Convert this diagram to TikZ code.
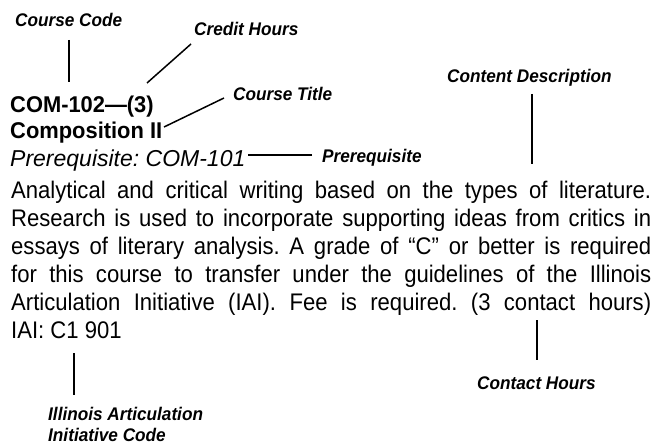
\documentclass[tikz,border=0pt]{standalone}
\usepackage{fontspec}
\setmainfont{Liberation Sans}
\newfontfamily\bodyfont{Liberation Sans}[FakeStretch=0.92]
\newfontfamily\headfont{Liberation Sans}[FakeStretch=0.96]
\newfontfamily\lblfont{Liberation Sans}[FakeStretch=0.94]
\frenchspacing
\begin{document}
\begin{tikzpicture}[x=1pt,y=-1pt,
  lbl/.style={font=\fontsize{18.3}{21}\lblfont\selectfont\bfseries\itshape, inner sep=0pt, anchor=base west},
  bodyline/.style={font=\fontsize{24}{28}\bodyfont\selectfont, inner sep=0pt, anchor=base west},
  head/.style={font=\fontsize{22.8}{26}\headfont\selectfont\bfseries, inner sep=0pt, anchor=base west},
  prq/.style={font=\fontsize{23}{26}\selectfont\itshape, inner sep=0pt, anchor=base west},
  ln/.style={line width=1.5pt}]
\useasboundingbox (0,0) rectangle (659,444);
% labels
\node[lbl] (cc) at (15,27) {Course Code};
\node[lbl] (ch) at (194,36) {Credit Hours};
\node[lbl] (ct) at (233,100) {Course Title};
\node[lbl] (cd) at (447,82) {Content Description};
\node[lbl] (pl) at (322,162) {Prerequisite};
\node[lbl] (chr) at (477,389) {Contact Hours};
\node[lbl, align=left] (ia) at (48,441) {Illinois Articulation\\Initiative Code};
% heading
\node[head] (code) at (10,113) {COM-102—(3)};
\node[head] (title) at (10,139) {Composition II};
\node[prq] (pre) at (10,166) {Prerequisite: COM-101};
% body
\node[bodyline] (b1) at (11,198) {\makebox[640pt][s]{Analytical and critical writing based on the types of literature.}};
\node[bodyline] (b2) at (11,226) {\makebox[640pt][s]{Research is used to incorporate supporting ideas from critics in}};
\node[bodyline] (b3) at (11,254) {\makebox[640pt][s]{essays of literary analysis. A grade of “C” or better is required}};
\node[bodyline] (b4) at (11,282) {\makebox[640pt][s]{for this course to transfer under the guidelines of the Illinois}};
\node[bodyline] (b5) at (11,310) {\makebox[640pt][s]{Articulation Initiative (IAI). Fee is required. (3 contact hours)}};
\node[bodyline] (b6) at (11,338) {IAI: C1 901};
% connector ends
\coordinate (cc1) at (69,40);  \coordinate (cc2) at (69,82);
\coordinate (ch1) at (191,44); \coordinate (ch2) at (147,83);
\coordinate (ct1) at (224,98); \coordinate (ct2) at (164,127);
\coordinate (pl1) at (312,155); \coordinate (pl2) at (248,155);
\coordinate (cd1) at (532,94); \coordinate (cd2) at (532,164);
\coordinate (hr1) at (537,320); \coordinate (hr2) at (537,360);
\coordinate (ia1) at (74,353); \coordinate (ia2) at (74,395);
\draw[ln] (cc1) -- (cc2);
\draw[ln] (ch1) -- (ch2);
\draw[ln] (ct1) -- (ct2);
\draw[ln] (pl1) -- (pl2);
\draw[ln] (cd1) -- (cd2);
\draw[ln] (hr1) -- (hr2);
\draw[ln] (ia1) -- (ia2);
\end{tikzpicture}
\end{document}
